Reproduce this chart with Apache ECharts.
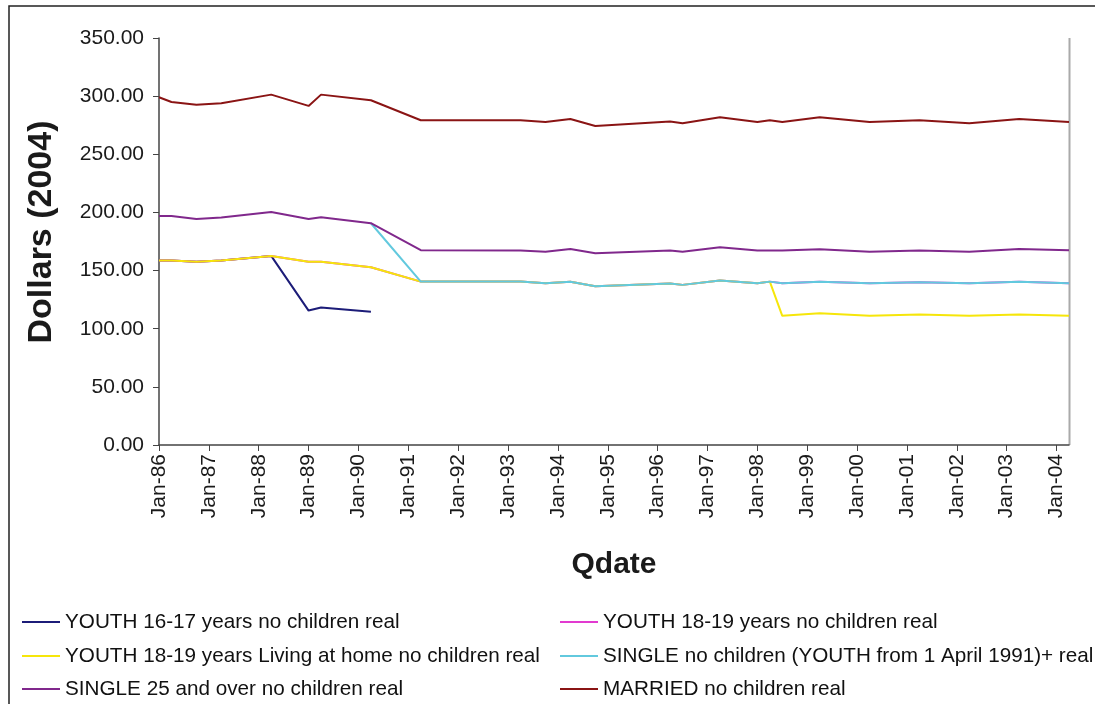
<!DOCTYPE html>
<html>
<head>
<meta charset="utf-8">
<script src="https://cdn.jsdelivr.net/npm/echarts@6/dist/echarts.min.js"></script>
<style>
  html, body { margin: 0; padding: 0; background: #ffffff; }
  #chart { width: 1095px; height: 704px; }
</style>
</head>
<body>
<div id="chart"></div>
<script>
// Observation dates (year-month) shared by all series
const dates = [
  '1986-01', '1986-04', '1986-10', '1987-04', '1988-04', '1989-01', '1989-04',
  '1990-04', '1991-04', '1993-04', '1993-10', '1994-04', '1994-10', '1996-04',
  '1996-07', '1997-04', '1998-01', '1998-04', '1998-07', '1999-04', '2000-04',
  '2001-04', '2002-04', '2003-04', '2004-04'
];

// X-axis tick labels, one per January
const yearLabels = [
  'Jan-86', 'Jan-87', 'Jan-88', 'Jan-89', 'Jan-90', 'Jan-91', 'Jan-92',
  'Jan-93', 'Jan-94', 'Jan-95', 'Jan-96', 'Jan-97', 'Jan-98', 'Jan-99',
  'Jan-00', 'Jan-01', 'Jan-02', 'Jan-03', 'Jan-04'
];

// Weekly benefit rates, 2004 dollars (null = not paid in that period)
const youth1617 = [158.6, 158.6, 157.5, 158.6, 162.6, 115.6, 118.2, 114.5,
  null, null, null, null, null, null, null, null, null, null, null, null, null,
  null, null, null, null];
const youth1819 = [158.6, 158.6, 157.5, 158.6, 162.6, 157.5, 157.5, 152.9,
  140.5, 140.5, 139.1, 140.3, 136.6, 138.8, 137.7, 141.4, 139.1, 140.5,
  139.1, 140.3, 139.1, 140.0, 139.1, 140.3, 139.1];
const youth1819Home = [158.6, 158.6, 157.5, 158.6, 162.6, 157.5, 157.5, 152.9,
  140.5, 140.5, 139.1, 140.3, 136.6, 138.8, 137.7, 141.4, 139.1, 140.5,
  111.1, 113.4, 111.1, 112.2, 111.1, 112.2, 111.1];
const singleNoChildren = [null, null, null, null, null, null, null, 190.7,
  140.5, 140.5, 139.1, 140.3, 136.6, 138.8, 137.7, 141.4, 139.1, 140.5,
  139.1, 140.3, 139.1, 140.0, 139.1, 140.3, 139.1];
const single25Plus = [197.0, 197.0, 194.4, 195.6, 200.4, 194.4, 195.9, 190.7,
  167.5, 167.2, 166.1, 168.6, 164.9, 167.2, 166.1, 170.1, 167.2, 167.2,
  167.2, 168.4, 166.1, 167.2, 166.1, 168.6, 167.5];
const married = [299.0, 295.0, 292.7, 293.9, 301.3, 291.6, 301.3, 296.5,
  279.3, 279.3, 277.8, 280.4, 274.4, 278.1, 276.7, 281.8, 277.8, 279.3,
  277.8, 281.8, 277.8, 279.3, 276.7, 280.4, 277.8];

const seriesNames = [
  'YOUTH 16-17 years no children real',
  'YOUTH 18-19 years no children real',
  'YOUTH 18-19 years Living at home no children real',
  'SINGLE no children (YOUTH from 1 April 1991)+ real',
  'SINGLE 25 and over no children real',
  'MARRIED no children real'
];
const seriesValues = [youth1617, youth1819, youth1819Home, singleNoChildren, single25Plus, married];
const seriesColors = ['#1c1c78', '#e23ad0', '#f6e60a', '#62c9de', '#80288c', '#8a1414'];

// Months elapsed since January 1986
function monthIndex(s) {
  const parts = s.split('-').map(Number);
  return (parts[0] - 1986) * 12 + (parts[1] - 1);
}
const xs = dates.map(monthIndex);
const tickValues = yearLabels.map((_, i) => i * 12);

const FONT = '"Liberation Sans", Arial, sans-serif';

// Legend laid out as two columns of three rows, one entry per component
const legendCols = [22, 560];
const legendRows = [610, 644, 677];
const legends = seriesNames.map((name, i) => ({
  orient: 'horizontal',
  left: legendCols[i % 2],
  top: legendRows[Math.floor(i / 2)],
  padding: 0,
  data: [name],
  icon: 'rect',
  itemWidth: 38,
  itemHeight: 2,
  textStyle: { fontFamily: FONT, fontSize: 20.7, color: '#111', lineHeight: 24 }
}));

const chart = echarts.init(document.getElementById('chart'), null, { renderer: 'canvas' });

chart.setOption({
  animation: false,
  backgroundColor: '#ffffff',
  grid: { left: 159, right: 26, top: 38, bottom: 259, containLabel: false },
  xAxis: {
    type: 'value',
    min: 0,
    max: xs[xs.length - 1],
    interval: 12,
    name: 'Qdate',
    nameLocation: 'middle',
    nameGap: 105,
    nameTextStyle: { fontFamily: FONT, fontSize: 30, fontWeight: 'bold', color: '#1a1a1a' },
    splitLine: { show: false },
    axisLine: { show: true, lineStyle: { color: '#444', width: 1.5 } },
    axisTick: { show: true, inside: false, length: 6, customValues: tickValues, lineStyle: { color: '#444', width: 1 } },
    axisLabel: {
      customValues: tickValues,
      rotate: 90,
      margin: 9,
      fontFamily: FONT,
      fontSize: 21,
      color: '#1a1a1a',
      formatter: v => yearLabels[Math.round(v / 12)] || ''
    }
  },
  yAxis: {
    type: 'value',
    min: 0,
    max: 350,
    interval: 50,
    splitLine: { show: false },
    axisLine: { show: true, lineStyle: { color: '#444', width: 1.5 } },
    axisTick: { show: true, inside: false, length: 6, lineStyle: { color: '#444', width: 1 } },
    axisLabel: {
      margin: 15,
      fontFamily: FONT,
      fontSize: 21,
      color: '#1a1a1a',
      formatter: v => v.toFixed(2)
    }
  },
  legend: legends,
  graphic: [
    // outer chart frame
    { type: 'rect', silent: true, shape: { x: 9, y: 6, width: 1200, height: 800 },
      style: { fill: 'none', stroke: '#222', lineWidth: 1.5 } },
    // right edge of the plot area
    { type: 'line', silent: true, shape: { x1: 1069.5, y1: 38, x2: 1069.5, y2: 445 },
      style: { stroke: '#aaa', lineWidth: 2 } },
    // vertical axis title
    { type: 'text', silent: true, x: 42, y: 232, rotation: Math.PI / 2,
      style: { text: 'Dollars (2004)', fontFamily: FONT, fontSize: 34, fontWeight: 'bold',
        fill: '#1a1a1a', textAlign: 'center', textVerticalAlign: 'middle' } }
  ],
  series: seriesNames.map((name, i) => ({
    name: name,
    type: 'line',
    data: xs.map((x, j) => [x, seriesValues[i][j]]),
    showSymbol: false,
    symbol: 'none',
    connectNulls: false,
    lineStyle: { color: seriesColors[i], width: 2 },
    itemStyle: { color: seriesColors[i] },
    emphasis: { disabled: true }
  }))
});
</script>
</body>
</html>
